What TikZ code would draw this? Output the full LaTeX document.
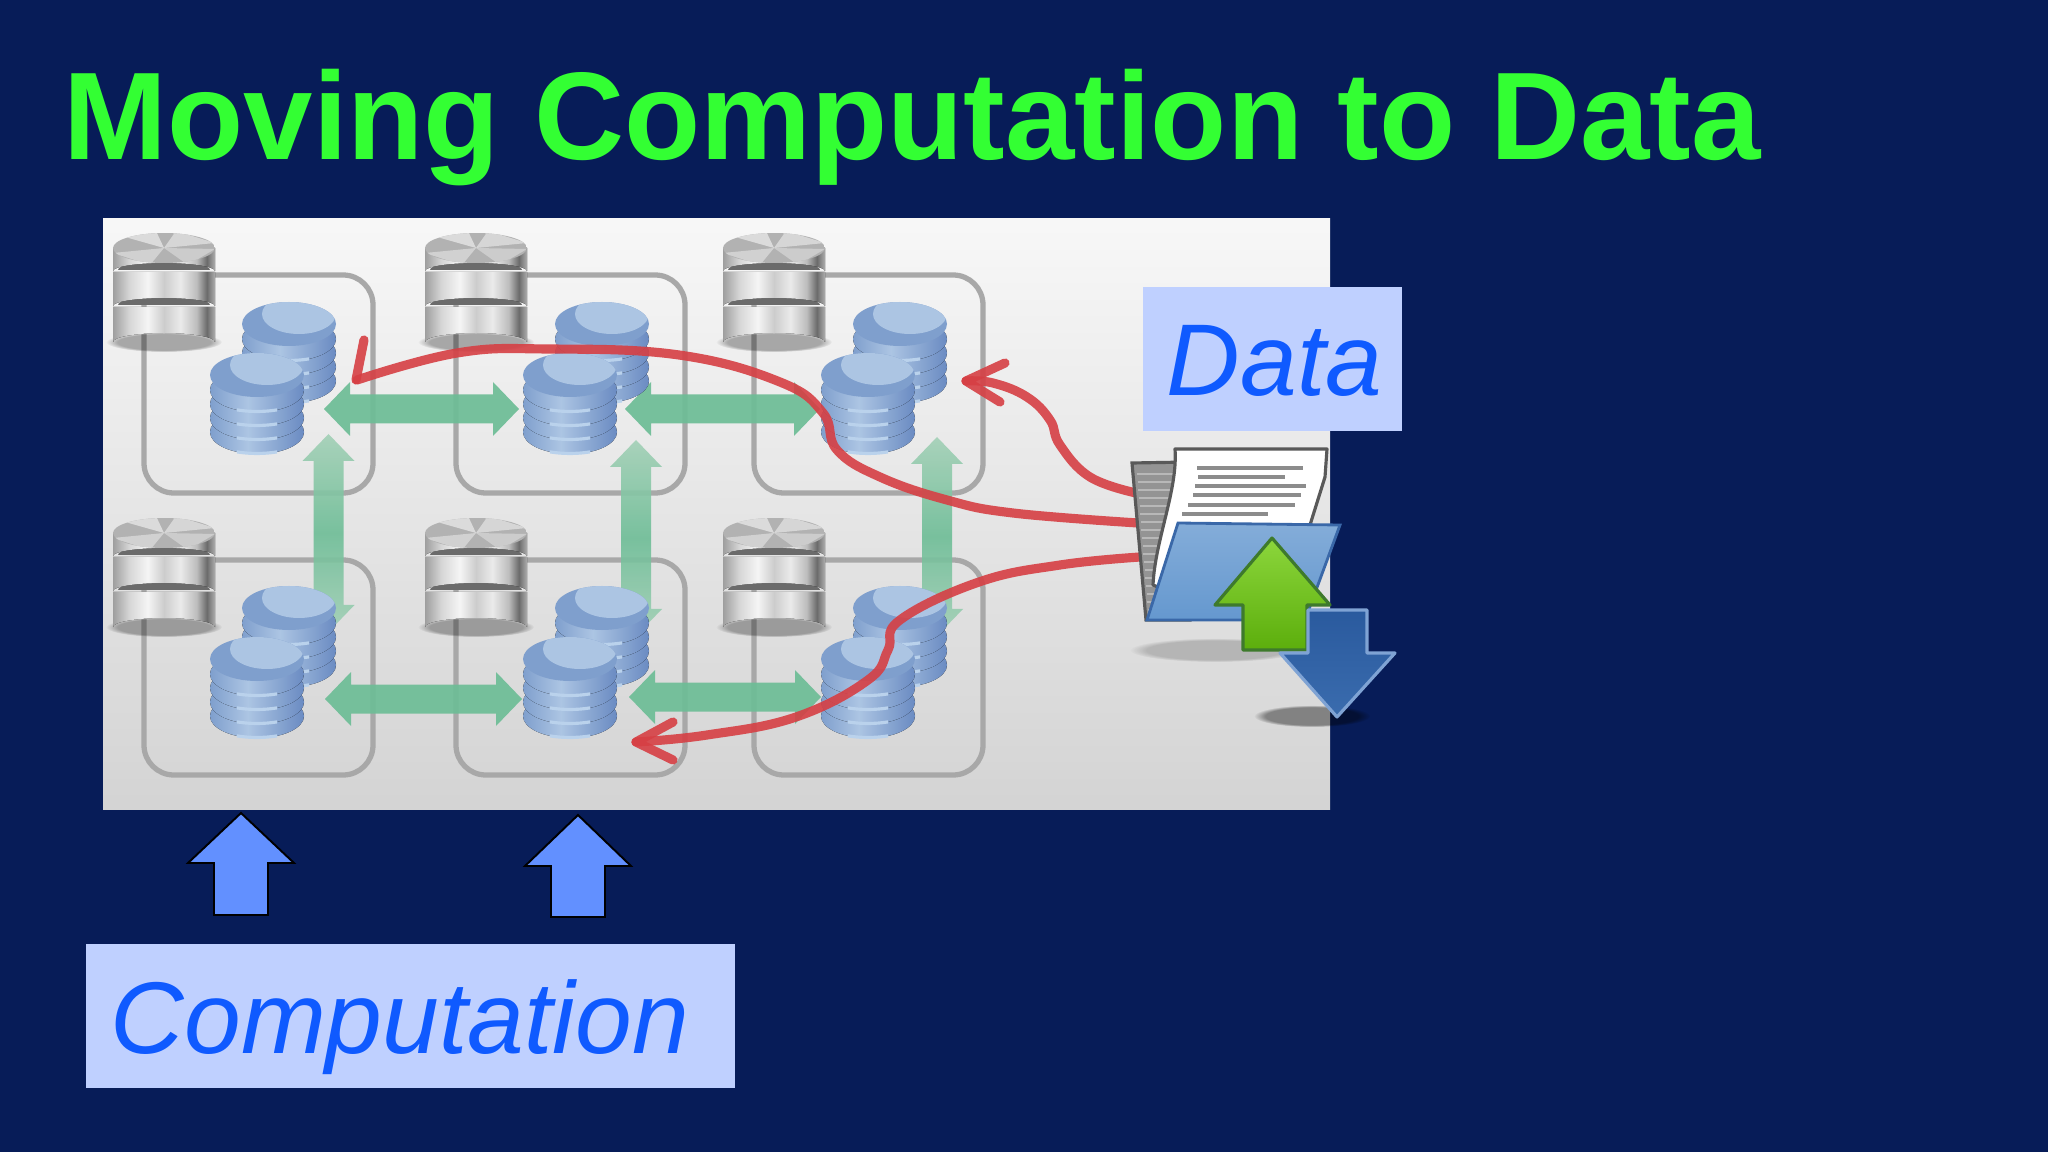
\documentclass[tikz,border=0pt]{standalone}
\usepackage{fontspec}
\setmainfont{Liberation Sans}
\usetikzlibrary{fadings}
\definecolor{slidebg}{HTML}{071C58}
\definecolor{titlegreen}{HTML}{33FF33}
\definecolor{labelbg}{HTML}{BFD0FF}
\definecolor{labeltext}{HTML}{0F5AFF}
\definecolor{uparrow}{HTML}{6290FF}
\definecolor{framegray}{HTML}{A8A8A8}
\definecolor{flowgreen}{HTML}{6DBD96}
\definecolor{flowlight}{HTML}{A2D0B6}
\definecolor{curvered}{HTML}{D63F44}
\definecolor{diskblue}{HTML}{7F9FCD}
\definecolor{diskdark}{HTML}{6A8BC2}
\definecolor{disklight}{HTML}{ACC5E3}
\definecolor{diskline}{HTML}{BAD2EC}
\definecolor{folderblue}{HTML}{6598CF}
\definecolor{folderedge}{HTML}{3A68A8}
\definecolor{arrowgreen}{HTML}{8CD63C}
\definecolor{arrowgreendark}{HTML}{5CAE0C}
\definecolor{arrowgreenedge}{HTML}{3E7A2C}
\definecolor{arrowblue}{HTML}{2A5A9E}
\definecolor{arrowbluelow}{HTML}{3A6CAE}
\definecolor{arrowblueedge}{HTML}{7FA3D4}
\pgfdeclarehorizontalshading{silver}{100bp}{color(0bp)=(black!38); color(25bp)=(black!38); color(33bp)=(black!16); color(42bp)=(black!4); color(50bp)=(black!20); color(58bp)=(black!8); color(66bp)=(black!26); color(71bp)=(black!58); color(75bp)=(black!32); color(100bp)=(black!32)}
\pgfdeclarehorizontalshading{bluedisk}{100bp}{color(0bp)=(diskblue); color(25bp)=(diskblue); color(45bp)=(disklight); color(75bp)=(diskdark); color(100bp)=(diskdark)}
\tikzset{
  frameline/.style={draw=framegray, line width=1.5pt, rounded corners=8.5pt},
  flowh/.style={fill=flowgreen, fill opacity=0.92},
  flowv/.style={top color=flowlight, bottom color=flowlight, middle color=flowgreen, opacity=0.9},
  redcurve/.style={draw=curvered, draw opacity=0.9, line width=2.6pt, line cap=round, line join=round},
  compup/.style={fill=uparrow, draw=black, line width=0.55pt},
  labelbox/.style={fill=labelbg, inner sep=0pt, anchor=north west},
  labeltxt/.style={text=labeltext, font=\fontsize{29}{34}\selectfont\itshape, anchor=base west, inner sep=0pt},
  softshadow/.style={fill=black, path fading=circle with fuzzy edge 20 percent},
  pics/drum/.style={code={
    \fill[softshadow, opacity=0.3] (0,109) ellipse [x radius=58, y radius=10];
    \fill[shading=silver] (-51,74) -- (-51,109) arc [start angle=180, end angle=360, x radius=51, y radius=9] -- (51,74) -- cycle;
    \fill[black!58] (-46,72) -- (46,72) arc [start angle=0, end angle=-180, x radius=46, y radius=9] -- cycle;
    \fill[shading=silver] (-51,39) -- (-51,73) arc [start angle=180, end angle=360, x radius=51, y radius=8] -- (51,39) -- cycle;
    \fill[black!58] (-46,37) -- (46,37) arc [start angle=0, end angle=-180, x radius=46, y radius=9] -- cycle;
    \fill[shading=silver] (-51,15) -- (-51,38) arc [start angle=180, end angle=360, x radius=51, y radius=8] -- (51,15) -- cycle;
    \begin{scope}
      \clip (0,15) ellipse [x radius=51, y radius=15];
      \fill[black!30] (-51,0) rectangle (51,30);
      \fill[black!14] (0,15) -- (-46,2) -- (-8,-2) -- cycle;
      \fill[black!16] (0,15) -- (12,-2) -- (51,10) -- cycle;
      \fill[black!18] (0,15) -- (-14,32) -- (-51,20) -- cycle;
      \fill[black!20] (0,15) -- (51,16) -- (24,32) -- cycle;
    \end{scope}
  }},
  pics/diskstack/.style={code={
    \foreach \c in {79,65,51,37}{
      \fill[shading=bluedisk] (0,\c) ellipse [x radius=47, y radius=22];
      \draw[diskline, line width=0.9pt] (-20,{\c+19.9}) .. controls (-7,{\c+22}) and (7,{\c+22}) .. (20,{\c+19.9});
    }
    \fill[diskblue] (0,22) ellipse [x radius=47, y radius=22];
    \begin{scope}
      \clip (0,22) ellipse [x radius=47, y radius=22];
      \fill[disklight] (10,12) ellipse [x radius=37, y radius=20];
    \end{scope}
  }}
}
% double arrows between the cells: x left tip, x right tip, y
\newcommand{\hflow}[3]{\fill[flowh] (#1,#3) -- ({#1+26},{#3-27}) -- ({#1+26},{#3-14.5}) -- ({#2-26},{#3-14.5}) -- ({#2-26},{#3-27}) -- (#2,#3) -- ({#2-26},{#3+27}) -- ({#2-26},{#3+14.5}) -- ({#1+26},{#3+14.5}) -- ({#1+26},{#3+27}) -- cycle;}
% x, y top tip, y bottom tip
\newcommand{\vflow}[3]{\path[flowv] (#1,#2) -- ({#1+26},{#2+27}) -- ({#1+15},{#2+27}) -- ({#1+15},{#3-27}) -- ({#1+26},{#3-27}) -- (#1,#3) -- ({#1-26},{#3-27}) -- ({#1-15},{#3-27}) -- ({#1-15},{#2+27}) -- ({#1-26},{#2+27}) -- cycle;}
% blue arrows under the picture: x, y tip, y head base, y foot
\newcommand{\compuparrow}[4]{\draw[compup] (#1,#2) -- ({#1+53},#3) -- ({#1+27},#3) -- ({#1+27},#4) -- ({#1-27},#4) -- ({#1-27},#3) -- ({#1-53},#3) -- cycle;}
\begin{document}
\begin{tikzpicture}[x=0.01cm, y=-0.01cm]
\useasboundingbox (0,0) rectangle (2048,1152);
\fill[slidebg] (0,0) rectangle (2048,1152);
\node[text=titlegreen, font=\fontsize{35.45}{42}\selectfont\bfseries, anchor=base west, inner sep=0pt] (title) at (63,160) {Moving Computation to Data};
\path[top color=black!3, bottom color=black!17] (103,219) rectangle (1330,809);
% cells
\foreach \x in {144,456,754}{
  \draw[frameline] (\x,275) rectangle ({\x+229},493);
  \draw[frameline] (\x,560) rectangle ({\x+229},775);
}
% green links
\hflow{324}{519}{409}
\hflow{625}{820}{409}
\hflow{325}{522}{699}
\hflow{629}{821}{697}
\vflow{328.5}{434}{632}
\vflow{636}{440}{636}
\vflow{937}{437}{636}
% disks and drums
\foreach \x in {257,570,868}{
  \pic at ({\x+32},302) {diskstack};
  \pic at (\x,353) {diskstack};
  \pic at ({\x+32},586) {diskstack};
  \pic at (\x,637) {diskstack};
}
\foreach \x in {164,476,774}{
  \pic at (\x,233) {drum};
  \pic at (\x,518) {drum};
}
% red curves
\draw[redcurve] plot[smooth, tension=0.7] coordinates {(1136,493) (1090,477) (1060,445) (1050,420) (1027,397) (993,383) (966,381)};
\draw[redcurve] (1005,363) -- (966,381) -- (1000,402);
\draw[redcurve] plot[smooth, tension=0.7] coordinates {(1138,523) (1013,513) (947,500) (880,477) (837,450) (823,413) (780,382) (679,355) (548,349) (457,353) (357,380)};
\draw[redcurve] (364,340) -- (356,380);
\draw[redcurve] plot[smooth, tension=0.7] coordinates {(1140,557) (1060,565) (979,582) (900,620) (888,650) (868,680) (796,717) (707,735) (636,742)};
\draw[redcurve] (673,722) -- (636,742) -- (673,760);
% folder
\fill[softshadow, opacity=0.18] (1215,650) ellipse [x radius=85, y radius=12];
\fill[softshadow, opacity=0.4] (1312,716) ellipse [x radius=58, y radius=11];
\draw[black!65, fill=black!42, line width=0.9pt] (1132,463) -- (1190,462) -- (1190,620) -- (1146,620) -- cycle;
\foreach \y in {474,482,...,610}{
  \draw[black!28, line width=0.5pt] ({1137+(\y-474)*0.08},\y) -- (1178,\y);
}
\draw[black!65, fill=white, line width=0.9pt, line join=round] (1175,449) -- (1327,449) -- (1325,477) -- (1310,525) -- (1165,590) -- (1153,585) .. controls (1155,540) and (1178,490) .. cycle;
\foreach \a/\b/\c in {1197/1303/468, 1198/1285/477, 1195/1306/486, 1193/1301/495, 1188/1295/505, 1182/1268/514}{
  \draw[black!45, line width=0.9pt] (\a,\c) -- (\b,\c);
}
\path[top color=folderblue!80!white, bottom color=folderblue, draw=folderedge, line width=0.8pt] (1178,523) -- (1340,525) -- (1305,620) -- (1147,620) -- cycle;
\draw[arrowgreenedge, top color=arrowgreen, bottom color=arrowgreendark, line width=0.9pt, line join=round] (1272,538) -- (1330,605) -- (1307,605) -- (1307,650) -- (1243,650) -- (1243,605) -- (1215,605) -- cycle;
\draw[arrowblueedge, top color=arrowblue, bottom color=arrowbluelow, line width=0.9pt, line join=round] (1308,610) -- (1367,610) -- (1367,653) -- (1395,653) -- (1337,717) -- (1280,653) -- (1308,653) -- cycle;
% labels
\node[labelbox, minimum width=2.59cm, minimum height=1.44cm] (databox) at (1142,286) {};
\node[labeltxt] (data) at (1166,396) {Data};
\compuparrow{241}{813}{863}{915}
\compuparrow{578}{815}{866}{917}
\node[labelbox, minimum width=6.49cm, minimum height=1.44cm] (computationbox) at (85,943) {};
\node[labeltxt] (computation) at (110,1053) {Computation};
\end{tikzpicture}
\end{document}
